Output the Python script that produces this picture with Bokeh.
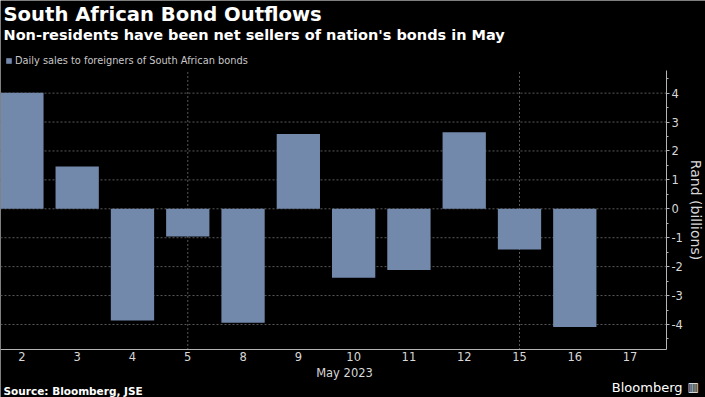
import math
from bokeh.plotting import figure
from bokeh.models import (Range1d, FixedTicker, SingleIntervalTicker, Label, Legend,
                          LegendItem, ColumnDataSource, PrintfTickFormatter)
from bokeh.embed import file_html
from bokeh.resources import INLINE

# ---- data ----
categories = ["2", "3", "4", "5", "8", "9", "10", "11", "12", "15", "16", "17"]
sales = [4.01, 1.46, -3.86, -0.96, -3.94, 2.59, -2.38, -2.12, 2.65, -1.41, -4.09, float("nan")]
grid_days = ["5", "15"]
y_ticks = [-4, -3, -2, -1, 0, 1, 2, 3, 4]

title = "South African Bond Outflows"
subtitle = "Non-residents have been net sellers of nation's bonds in May"
series_name = "Daily sales to foreigners of South African bonds"
x_label = "May 2023"
y_label = "Rand (billions)"
source_text = "Source: Bloomberg, JSE"

# ---- layout constants ----
W, H = 705, 397
X_LO, X_HI = -0.387, 11.658      # plotted x extent (axis line span)
Y_LO, Y_HI = -4.88, 4.79         # plotted y extent (axis line span)
X_RANGE = (-0.387, 12.364)       # full canvas width
Y_RANGE = (-6.525, 7.203)        # full canvas height

BAR = "#7389AB"
FONT = "DejaVu Sans"
TXT = "#d8d8d8"
GRID = "#5a5a5a"
AXIS = "#b4b4b4"

idx = list(range(len(categories)))
src = ColumnDataSource(dict(x=idx, top=sales))

p = figure(width=W, height=H,
           x_range=Range1d(*X_RANGE), y_range=Range1d(*Y_RANGE),
           y_axis_location="right", output_backend="svg", toolbar_location=None,
           min_border=0, background_fill_color="black", border_fill_color="black",
           outline_line_color=None)
p.xgrid.visible = False
p.ygrid.visible = False

# grid lines (dotted), limited to the plotting area
hx = [categories.index(d) for d in grid_days]
p.segment(x0=X_LO, x1=X_HI, y0=y_ticks, y1=y_ticks, line_color=GRID, line_dash="2 2", line_width=1)
p.segment(x0=hx, x1=hx, y0=Y_LO, y1=Y_HI, line_color=GRID, line_dash="2 2", line_width=1)

bars = p.vbar(x="x", top="top", bottom=0, width=0.783, source=src,
              fill_color=BAR, line_color=None)

# x axis
xa = p.xaxis[0]
xa.fixed_location = Y_LO
xa.bounds = (X_LO, X_HI)
xa.ticker = FixedTicker(ticks=idx)
xa.major_label_overrides = {i: c for i, c in zip(idx, categories)}
xa.major_tick_out = 0
xa.major_tick_in = 0
xa.minor_tick_out = 0
xa.minor_tick_in = 0
xa.axis_line_color = AXIS
xa.major_label_standoff = 2
xa.major_label_text_font = FONT
xa.major_label_text_font_size = "11.5px"
xa.major_label_text_color = TXT

# y axis (right)
ya = p.yaxis[0]
ya.fixed_location = X_HI
ya.bounds = (Y_LO, Y_HI)
ya.ticker = SingleIntervalTicker(interval=1, num_minor_ticks=2)
ya.formatter = PrintfTickFormatter(format="%d")
ya.axis_line_color = AXIS
ya.major_tick_line_color = AXIS
ya.minor_tick_line_color = AXIS
ya.major_tick_out = 3
ya.major_tick_in = 0
ya.minor_tick_out = 2
ya.minor_tick_in = 0
ya.major_label_standoff = 2
ya.major_label_text_font = FONT
ya.major_label_text_font_size = "11.5px"
ya.major_label_text_color = TXT

# legend
legend = Legend(items=[LegendItem(label=series_name, renderers=[bars])],
                location=(5, 331.5), padding=0, margin=0, glyph_width=7, glyph_height=7,
                label_standoff=3, label_height=11, label_text_font=FONT,
                label_text_font_size="9.8px", label_text_color="#c8c8c8",
                background_fill_alpha=0, border_line_alpha=0)
p.add_layout(legend, "center")


def lab(text, x, y, size, color="white", bold=False, align="left",
        baseline="alphabetic", angle=0.0):
    p.add_layout(Label(x=x, y=y, x_units="screen", y_units="screen", text=text,
                       text_font=FONT, text_font_size=size, text_color=color,
                       text_font_style="bold" if bold else "normal",
                       text_align=align, text_baseline=baseline, angle=angle))


lab(title, 3, 382.8, "19.6px", bold=True)
lab(subtitle, 3, 362.5, "14.5px", bold=True)
lab(x_label, 344, 24.3, "11.5px", color=TXT, align="center")
lab(y_label, 695, 187.5, "14px", color=TXT, align="center", baseline="middle",
    angle=-math.pi / 2)
lab(source_text, 3, 7, "10.5px", bold=True)
lab("Bloomberg", 682, 10.3, "13px", align="right")
lab("\u25a5", 687, 10.3, "12px")

open("out.html", "w").write(file_html(p, INLINE))
